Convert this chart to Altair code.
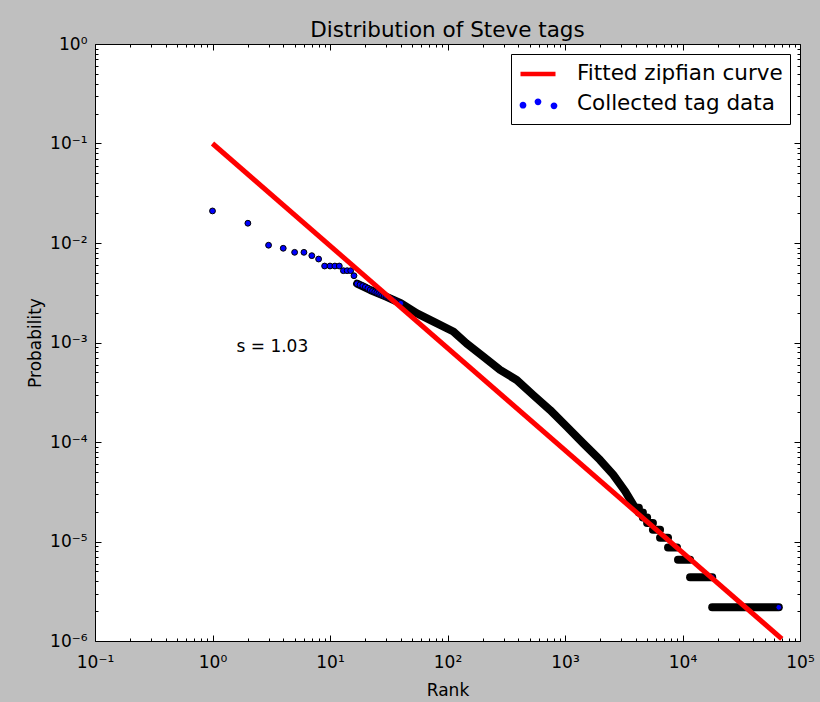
import altair as alt
import pandas as pd

W, H = 705, 597
FONT = "DejaVu Sans"

# ---- data ----
fit_rank = [1, 70000]
fit_prob = [0.1, 1.05e-6]

head_rank = list(range(1, 41))
head_prob = [0.0210, 0.0158, 0.0095, 0.00885, 0.00806, 0.00806, 0.00746, 0.0069,
             0.00587, 0.00587, 0.00587, 0.00587, 0.00527, 0.00527, 0.00527, 0.00469,
             0.00390, 0.00380, 0.00372, 0.00362, 0.00350, 0.00338, 0.00330, 0.00322,
             0.00316, 0.00310, 0.00304, 0.00298, 0.00293, 0.00289, 0.00285, 0.00281,
             0.00276, 0.00272, 0.00268, 0.00263, 0.00259, 0.00255, 0.00251, 0.00248]

band_rank = [17, 22, 30, 40, 55, 76, 112, 145, 202, 280, 388, 537, 745, 1032,
             1430, 1985, 2570, 3250, 3950]
band_prob = [0.00390, 0.00337, 0.00289, 0.00248, 0.00196, 0.00162, 0.00129, 0.00098,
             0.00072, 0.00053, 0.00042, 0.000296, 0.00021, 0.000143, 0.000097,
             0.000066, 0.000047, 0.000032, 0.0000218]

plat_prob = [2.18e-5, 1.96e-5, 1.74e-5, 1.53e-5, 1.31e-5, 1.09e-5, 8.72e-6,
             6.54e-6, 4.36e-6, 2.18e-6]
plat_start = [3950, 4250, 4600, 5000, 5600, 6440, 7530, 9160, 11600, 17900]
plat_end = [4250, 4600, 5000, 5600, 6440, 7530, 8980, 11600, 17900, 66000]

tail_end_rank = [17900, 66000]
tail_end_prob = [4.36e-6, 2.18e-6]

note_text = ["s = 1.03"]
note_rank = [1.6]
note_prob = [8.1e-4]

legend_labels = ["Fitted zipfian curve", "Collected tag data"]

x_major = [0.1, 1, 10, 100, 1000, 10000, 100000]
y_major = [1e-6, 1e-5, 1e-4, 1e-3, 1e-2, 1e-1, 1]
x_all = [round(k * 10.0 ** e, 6) for e in range(-1, 5) for k in range(1, 10)] + [100000]
y_all = [round(k * 10.0 ** e, 12) for e in range(-6, 0) for k in range(1, 10)] + [1]

# ---- tables ----
band_df = pd.DataFrame({"rank": band_rank, "prob": band_prob})
plat_df = pd.DataFrame({"start": plat_start, "end": plat_end, "prob": plat_prob})
pts_df = pd.DataFrame({"rank": head_rank + tail_end_rank, "prob": head_prob + tail_end_prob})
fit_df = pd.DataFrame({"rank": fit_rank, "prob": fit_prob})
txt_df = pd.DataFrame({"rank": note_rank, "prob": note_prob, "label": note_text})
leg_df = pd.DataFrame({"series": legend_labels, "rank": fit_rank, "prob": fit_prob})

xs = alt.Scale(type="log", domain=[0.1, 100000], nice=False)
ys = alt.Scale(type="log", domain=[1e-6, 1], nice=False)

MAJ = "abs(log(datum.value)/LN10 - round(log(datum.value)/LN10)) < 0.001"
LBL = ("'10' + (round(log(datum.value)/LN10) < 0 ? '\u207b' : '') + "
       "['\u2070','\u00b9','\u00b2','\u00b3','\u2074','\u2075','\u2076']"
       "[abs(round(log(datum.value)/LN10))]")


def tick_axis(orient, offset, values):
    return alt.Axis(orient=orient, offset=offset, values=values, labels=False,
                    domain=False, ticks=True, tickColor="black", tickWidth=1,
                    tickSize={"condition": {"test": MAJ, "value": 6}, "value": 3},
                    grid=False, title=None, zindex=1)


x_lab = alt.Axis(orient="bottom", values=x_major, labelExpr=LBL, ticks=False, tickSize=0,
                 domain=False, grid=False, labelPadding=13, labelFontSize=17,
                 labelColor="black", labelFont=FONT, labelFlush=False, labelOverlap=False,
                 title="Rank", titleFontSize=17, titleFontWeight="normal", titleColor="black",
                 titleFont=FONT, titleX=W / 2, titleY=54, titleBaseline="alphabetic",
                 titleAlign="center")
y_lab = alt.Axis(orient="left", values=y_major, labelExpr=LBL, ticks=False, tickSize=0,
                 domain=False, grid=False, labelPadding=8, labelFontSize=17,
                 labelColor="black", labelFont=FONT, labelFlush=False, labelOverlap=False,
                 title="Probability", titleFontSize=17, titleFontWeight="normal",
                 titleColor="black", titleFont=FONT, titleX=-60, titleY=H / 2,
                 titleAngle=270, titleBaseline="middle", titleAlign="center")

line_path = "M-0.875,-0.11L0.875,-0.11L0.875,0.11L-0.875,0.11Z"
dots_path = ("M-0.92,0.06a0.17,0.17 0 1,0 0.34,0a0.17,0.17 0 1,0 -0.34,0Z "
             "M-0.17,-0.11a0.17,0.17 0 1,0 0.34,0a0.17,0.17 0 1,0 -0.34,0Z "
             "M0.63,0.09a0.17,0.17 0 1,0 0.34,0a0.17,0.17 0 1,0 -0.34,0Z")

LEG = alt.Legend(title=None, orient="top-right", offset=10, padding=7, fillColor="white",
                 strokeColor="black", cornerRadius=0, labelFont=FONT, labelFontSize=21.5,
                 labelColor="black", labelOffset=19, labelLimit=400, symbolSize=1600,
                 symbolStrokeWidth=0, symbolOpacity=1, clipHeight=26, rowPadding=4)

band = alt.Chart(band_df).mark_line(color="black", strokeWidth=8, strokeCap="round",
                                    strokeJoin="round").encode(
    x=alt.X("rank:Q", scale=xs, axis=x_lab),
    y=alt.Y("prob:Q", scale=ys, axis=y_lab))

plate = alt.Chart(plat_df).mark_rule(color="black", strokeWidth=8, strokeCap="round").encode(
    x=alt.X("start:Q", scale=xs, axis=tick_axis("top", -H, x_all)),
    x2="end:Q",
    y=alt.Y("prob:Q", scale=ys, axis=tick_axis("right", -W, y_all)))

pts = alt.Chart(pts_df).mark_point(filled=True, shape="circle", size=34, fill="#0000ff",
                                   stroke="black", strokeWidth=1, opacity=1).encode(
    x=alt.X("rank:Q", scale=xs, axis=tick_axis("bottom", -H, x_all)),
    y=alt.Y("prob:Q", scale=ys, axis=tick_axis("left", -W, y_all)))

fit = alt.Chart(fit_df).mark_line(color="#ff0000", strokeWidth=5).encode(
    x=alt.X("rank:Q", scale=xs, axis=None),
    y=alt.Y("prob:Q", scale=ys, axis=None))

txt = alt.Chart(txt_df).mark_text(align="left", baseline="alphabetic", fontSize=17,
                                  font=FONT, color="black").encode(
    x=alt.X("rank:Q", scale=xs, axis=None),
    y=alt.Y("prob:Q", scale=ys, axis=None),
    text="label:N")

leg = alt.Chart(leg_df).transform_filter("false").mark_point(filled=True, opacity=1).encode(
    x=alt.X("rank:Q", scale=xs, axis=None),
    y=alt.Y("prob:Q", scale=ys, axis=None),
    color=alt.Color("series:N", scale=alt.Scale(domain=legend_labels,
                                                range=["#ff0000", "#0000ff"]), legend=LEG),
    shape=alt.Shape("series:N", scale=alt.Scale(domain=legend_labels,
                                                range=[line_path, dots_path]), legend=LEG))

chart = alt.layer(band, plate, pts, fit, txt, leg).resolve_axis(
    x="independent", y="independent"
).properties(
    width=W, height=H,
    title=alt.TitleParams(text="Distribution of Steve tags", font=FONT, fontSize=21.5,
                          fontWeight="normal", color="black", anchor="middle",
                          frame="group", offset=0, dy=23, baseline="alphabetic"),
    padding={"left": 95, "top": 44, "right": 20, "bottom": 61},
    autosize=alt.AutoSizeParams(type="none"),
    background="#bfbfbf",
).configure(
    font=FONT,
    view=alt.ViewConfig(stroke="black", strokeWidth=1, fill="white"),
)

chart.save("out.html", embed_options={"renderer": "svg", "actions": False})
